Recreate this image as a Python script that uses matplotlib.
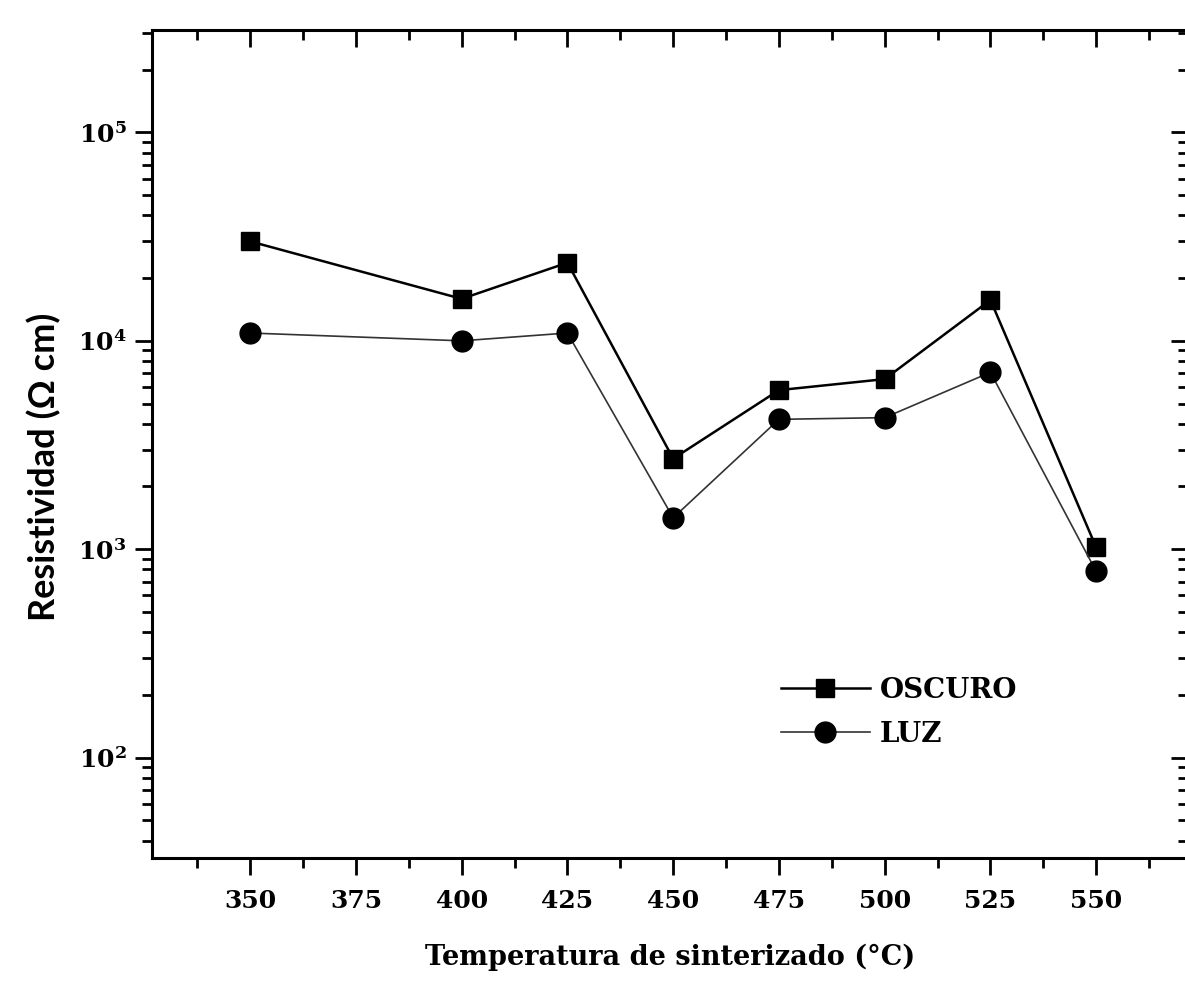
import matplotlib
matplotlib.use('Agg')
import matplotlib.pyplot as plt
from matplotlib.ticker import LogLocator, MultipleLocator, FixedLocator, NullFormatter

# Datos
temperatura = [350, 400, 425, 450, 475, 500, 525, 550]
oscuro = [30000, 15900, 23700, 2720, 5800, 6550, 15700, 1020]
luz = [10900, 10000, 10900, 1415, 4200, 4280, 7060, 782]

x_ticks = [350, 375, 400, 425, 450, 475, 500, 525, 550]
y_ticks = [1e2, 1e3, 1e4, 1e5]
y_tick_labels = ['10$^{2}$', '10$^{3}$', '10$^{4}$', '10$^{5}$']

FONT = 'DejaVu Serif'
plt.rcParams['font.family'] = [FONT]
plt.rcParams['font.weight'] = 'bold'
plt.rcParams['mathtext.fontset'] = 'custom'
plt.rcParams['mathtext.rm'] = FONT + ':bold'
plt.rcParams['mathtext.default'] = 'regular'

fig = plt.figure(figsize=(11.85, 9.84), dpi=100)
ax = fig.add_axes([152 / 1185, 126 / 984, (1188 - 152) / 1185, (858 - 30) / 984])

ax.plot(temperatura, oscuro, color='black', lw=1.8, marker='s', markersize=13.5,
        label='OSCURO')
ax.plot(temperatura, luz, color='#333333', lw=1.2, marker='o', markersize=15,
        markerfacecolor='black', markeredgecolor='black', label='LUZ')

ax.set_yscale('log')
ax.set_xlim(326.8, 571.7)
ax.set_ylim(33, 3.1e5)

ax.xaxis.set_major_locator(FixedLocator(x_ticks))
ax.xaxis.set_minor_locator(MultipleLocator(12.5))
ax.yaxis.set_major_locator(FixedLocator(y_ticks))
ax.set_yticklabels(y_tick_labels)
ax.yaxis.set_minor_locator(LogLocator(base=10, subs=range(2, 10)))
ax.yaxis.set_minor_formatter(NullFormatter())

for s in ax.spines.values():
    s.set_linewidth(2.2)

ax.tick_params(which='both', direction='out', width=2, labelsize=18,
               top=True, right=True)
ax.tick_params(which='major', length=12.5, pad=6)
ax.tick_params(axis='x', which='major', pad=10)
ax.tick_params(which='minor', length=7)
# top / right ticks point inwards
for t in ax.xaxis.get_major_ticks() + ax.xaxis.get_minor_ticks():
    t.tick2line.set_marker(3)
for t in ax.yaxis.get_major_ticks() + ax.yaxis.get_minor_ticks():
    t.tick2line.set_marker(0)

ax.set_xlabel('Temperatura de sinterizado (°C)', fontsize=19.5, fontweight='bold', labelpad=22)
ax.set_ylabel('Resistividad (Ω cm)', fontsize=26, fontweight='bold',
              family=['Lato', 'DejaVu Sans'])
ax.yaxis.set_label_coords(-0.088, 0.473)

ax.legend(loc='upper left', bbox_to_anchor=(756 / 1185, 1 - 652 / 984),
          bbox_transform=fig.transFigure, frameon=False, fontsize=20,
          handlelength=3.2, handletextpad=0.35, labelspacing=0.6)

fig.savefig('out.png', dpi=100)
